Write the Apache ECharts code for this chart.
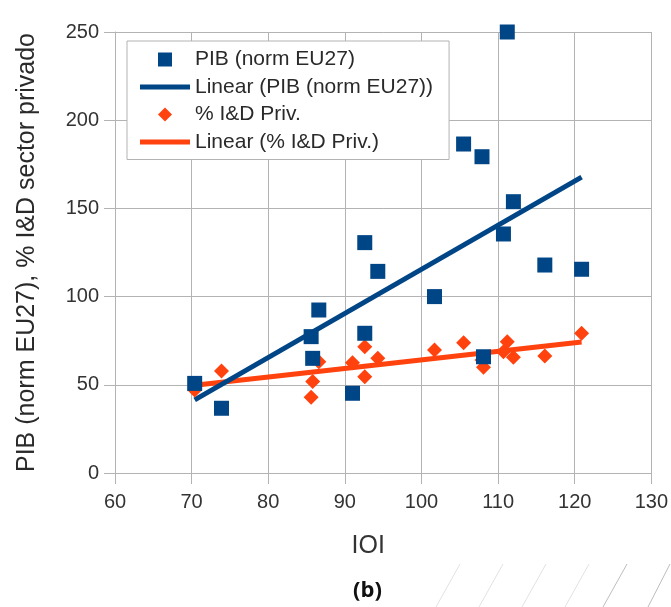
<!DOCTYPE html>
<html>
<head>
<meta charset="utf-8">
<script src="https://cdn.jsdelivr.net/npm/echarts@6/dist/echarts.min.js"></script>
<style>
  html, body { margin: 0; padding: 0; background: #fff; }
  #chart { width: 671px; height: 607px; }
</style>
</head>
<body>
<div id="chart"></div>
<script>
// IOI (x) per country, shared by both series
const ioi    = [70.4, 73.9, 85.6, 85.8, 86.6, 91.0, 92.6, 92.6, 94.3, 101.7, 105.5, 107.9, 108.1, 110.7, 111.2, 112.0, 116.1, 120.9]
// PIB (norm EU27)
const pib    = [50.8, 36.7, 77.3, 65.0, 92.4, 45.2, 130.6, 79.2, 114.3, 100.0, 186.5, 179.3, 65.9, 135.5, 250.0, 153.8, 117.9, 115.5]
// % I&D Priv.
const idPriv = [47.0, 57.8, 42.9, 51.8, 63.1, 62.5, 71.6, 54.6, 65.0, 69.7, 73.9, 64.0, 59.9, 68.8, 74.4, 65.6, 66.3, 79.2]

const xTicks = [60, 130, 10]
const yTicks = [0, 250, 50]

const NAMES = ['PIB (norm EU27)', 'Linear (PIB (norm EU27))', '% I&D Priv.', 'Linear (% I&D Priv.)']
const BLUE = '#004586'
const ORANGE = '#ff420e'
const FONT = 'Liberation Sans'

// least squares fit, drawn between the smallest and largest x
function trend(xs, ys) {
  const n = xs.length
  const mx = xs.reduce((a, b) => a + b, 0) / n
  const my = ys.reduce((a, b) => a + b, 0) / n
  let sxy = 0, sxx = 0
  xs.forEach((x, i) => { sxy += (x - mx) * (ys[i] - my); sxx += (x - mx) * (x - mx) })
  const k = sxy / sxx
  const x0 = Math.min(...xs), x1 = Math.max(...xs)
  return [[x0, my + k * (x0 - mx)], [x1, my + k * (x1 - mx)]]
}

const chart = echarts.init(document.getElementById('chart'), null, { renderer: 'canvas' })

const gridColor = '#b3b3b3'

chart.setOption({
  backgroundColor: '#fff',
  animation: false,
  textStyle: { fontFamily: FONT },
  grid: { left: 115, right: 19, top: 32, bottom: 134 },
  legend: {
    orient: 'vertical',
    left: 127, top: 41,
    padding: [8, 16, 7, 13],
    backgroundColor: '#fff',
    borderColor: '#b3b3b3',
    borderWidth: 1,
    itemWidth: 50, itemHeight: 14,
    itemGap: 6.5,
    itemTextGap: 5,
    itemStyle: { borderWidth: 0 },
    textStyle: { fontFamily: FONT, fontSize: 21, color: '#2a2a2a', lineHeight: 20 },
    data: [
      { name: NAMES[0], icon: 'path://M0,0H10V10H0Z' },
      { name: NAMES[1], icon: 'path://M0,0H50V5H0Z' },
      { name: NAMES[2], icon: 'path://M5,0L10,5L5,10L0,5Z' },
      { name: NAMES[3], icon: 'path://M0,0H50V5H0Z' },
    ],
    z: 10,
  },
  xAxis: {
    type: 'value',
    min: xTicks[0], max: xTicks[1], interval: xTicks[2],
    name: 'IOI',
    nameLocation: 'middle',
    nameGap: 61,
    nameTextStyle: { fontFamily: FONT, fontSize: 25, color: '#333', padding: [0, 30, 0, 0] },
    axisLine: { lineStyle: { color: gridColor, width: 1 } },
    axisTick: { length: 11, lineStyle: { color: gridColor } },
    axisLabel: { fontFamily: FONT, fontSize: 20, color: '#333', margin: 19 },
    splitLine: { show: true, lineStyle: { color: gridColor, width: 1 } },
  },
  yAxis: {
    type: 'value',
    min: yTicks[0], max: yTicks[1], interval: yTicks[2],
    name: 'PIB (norm EU27), % I&D sector privado',
    nameLocation: 'middle',
    nameGap: 75,
    nameTextStyle: { fontFamily: FONT, fontSize: 25, color: '#2a2a2a' },
    axisLine: { show: true, lineStyle: { color: gridColor, width: 1 } },
    axisTick: { show: true, length: 11, lineStyle: { color: gridColor } },
    axisLabel: { fontFamily: FONT, fontSize: 20, color: '#333', margin: 16 },
    splitLine: { show: true, lineStyle: { color: gridColor, width: 1 } },
  },
  series: [
    {
      name: NAMES[3],
      type: 'line',
      data: trend(ioi, idPriv),
      symbol: 'none',
      color: ORANGE,
      lineStyle: { color: ORANGE, width: 5 },
      z: 2,
    },
    {
      name: NAMES[1],
      type: 'line',
      data: trend(ioi, pib),
      symbol: 'none',
      color: BLUE,
      lineStyle: { color: BLUE, width: 5 },
      z: 3,
    },
    {
      name: NAMES[2],
      type: 'scatter',
      data: ioi.map((x, i) => [x, idPriv[i]]),
      symbol: 'diamond',
      symbolSize: 15,
      color: ORANGE,
      itemStyle: { opacity: 1 },
      z: 4,
    },
    {
      name: NAMES[0],
      type: 'scatter',
      data: ioi.map((x, i) => [x, pib[i]]),
      symbol: 'rect',
      symbolSize: 15,
      color: BLUE,
      itemStyle: { opacity: 1 },
      z: 5,
    },
  ],
  graphic: [
    {
      type: 'text',
      left: 353, top: 580,
      style: { text: '(b)', font: 'bold 22px "Open Sans"', fill: '#111' },
    },
    // faint hatch strokes along the bottom edge of the scan
    { type: 'line', shape: { x1: 460, y1: 564, x2: 436, y2: 607 }, style: { stroke: '#e2e2e2', lineWidth: 1 } },
    { type: 'line', shape: { x1: 503, y1: 564, x2: 479, y2: 607 }, style: { stroke: '#e2e2e2', lineWidth: 1 } },
    { type: 'line', shape: { x1: 546, y1: 564, x2: 522, y2: 607 }, style: { stroke: '#e2e2e2', lineWidth: 1 } },
    { type: 'line', shape: { x1: 589, y1: 564, x2: 565, y2: 607 }, style: { stroke: '#e2e2e2', lineWidth: 1 } },
    { type: 'line', shape: { x1: 627, y1: 564, x2: 603, y2: 607 }, style: { stroke: '#bdbdbd', lineWidth: 1 } },
    { type: 'line', shape: { x1: 670, y1: 564, x2: 648, y2: 607 }, style: { stroke: '#bdbdbd', lineWidth: 1 } },
  ],
})
</script>
</body>
</html>
